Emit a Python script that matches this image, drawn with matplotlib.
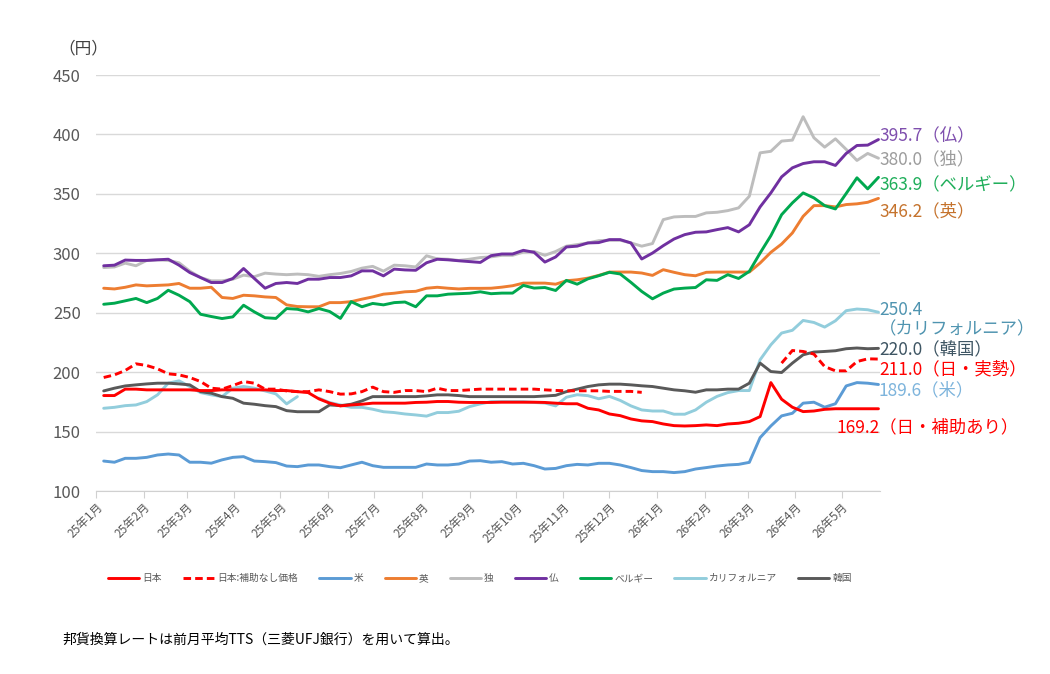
import numpy as np
import pandas as pd
import matplotlib
matplotlib.use('Agg')
import matplotlib.pyplot as plt
import matplotlib.dates as mdates

plt.rcParams['font.family'] = ['Noto Sans CJK JP', 'DejaVu Sans']

nan = np.nan

#################### Data ####################
dates = pd.date_range('2025-01-06', periods=73, freq='7D')

japan = [180.3, 180.3, 185.7, 185.7, 185.1, 185.1, 185.1, 185.1, 185.1, 184.5,
         184.5, 185.1, 185.1, 185.1, 185.1, 185.1, 184.5, 184.5, 183.6, 182.8,
         177.5, 173.9, 171.6, 172.4, 173.0, 173.9, 173.9, 173.9, 173.9, 174.5,
         174.7, 175.3, 175.3, 174.7, 174.5, 174.5, 174.5, 174.7, 174.7, 174.7,
         174.7, 174.5, 173.9, 173.4, 173.4, 169.6, 168.2, 164.8, 163.4, 160.6,
         159.0, 158.4, 156.4, 155.0, 154.7, 155.0, 155.6, 155.0, 156.4, 157.0,
         158.4, 162.6, 191.2, 177.2, 170.5, 166.8, 167.3, 168.7, 169.2, 169.2,
         169.2, 169.2, 169.2]

japan_nosub = [195.5, 197.7, 201.4, 207.0, 205.6, 202.8, 198.6, 197.7, 195.5, 192.1,
               186.5, 185.7, 188.7, 192.1, 190.7, 185.7, 185.7, 184.2, 183.6, 183.6,
               185.1, 183.6, 181.5, 181.7, 183.6, 187.4, 183.6, 183.0, 184.5, 184.5,
               183.6, 186.5, 184.5, 184.5, 185.1, 185.7, 185.7, 185.7, 185.7, 185.7,
               185.7, 185.1, 184.6, 184.3, 184.3, 184.3, 184.3, 183.8, 183.8, 183.8,
               183.0, nan, nan, nan, nan, nan, nan, nan, nan, nan,
               nan, nan, nan, 207.6, 218.2, 217.4, 215.2, 204.7, 201.1, 201.1,
               208.9, 211.2, 211.0]

usa = [125.2, 124.2, 127.5, 127.5, 128.3, 130.3, 131.1, 130.3, 124.2, 124.2,
       123.4, 126.2, 128.3, 128.9, 125.2, 124.7, 123.9, 121.0, 120.5, 121.9,
       121.9, 120.5, 119.6, 121.9, 124.2, 121.3, 119.9, 119.9, 119.9, 119.9,
       122.7, 121.9, 121.9, 122.7, 125.2, 125.5, 124.2, 124.7, 122.7, 123.3,
       121.3, 118.5, 119.0, 121.3, 122.4, 121.9, 123.3, 123.3, 121.9, 119.7,
       117.2, 116.3, 116.3, 115.5, 116.3, 118.5, 119.7, 121.0, 121.9, 122.4,
       124.1, 144.9, 154.7, 163.2, 165.4, 173.9, 174.7, 170.5, 173.4, 188.4,
       191.2, 190.7, 189.6]

uk = [270.6, 270.0, 271.4, 273.4, 272.6, 273.0, 273.4, 274.6, 270.6, 270.6,
      271.4, 262.8, 262.0, 264.7, 264.2, 263.3, 262.8, 256.6, 255.2, 255.0,
      255.0, 258.5, 258.5, 259.3, 261.4, 263.3, 265.6, 266.4, 267.6, 268.0,
      270.6, 271.4, 270.6, 270.0, 270.5, 270.5, 270.6, 271.5, 272.7, 274.9,
      274.9, 274.9, 274.0, 276.9, 277.7, 279.1, 281.4, 284.2, 284.2, 284.2,
      283.4, 281.4, 286.2, 284.0, 282.0, 281.1, 284.0, 284.2, 284.2, 284.2,
      284.2, 291.8, 300.8, 307.8, 317.1, 331.1, 340.1, 340.1, 339.0, 341.0,
      341.6, 342.9, 346.2]

germany = [288.0, 288.5, 291.7, 289.5, 294.0, 294.5, 294.0, 292.0, 285.0, 279.6,
           276.8, 276.8, 278.2, 281.6, 280.3, 283.3, 282.5, 282.0, 282.5, 282.0,
           280.6, 282.0, 283.0, 284.7, 287.5, 289.0, 285.0, 290.0, 289.5, 288.5,
           297.9, 295.3, 295.0, 294.0, 295.0, 296.4, 297.0, 298.3, 298.3, 301.0,
           301.5, 298.3, 301.5, 306.0, 307.3, 308.7, 310.6, 311.0, 311.0, 308.7,
           306.0, 308.2, 328.3, 330.6, 331.0, 331.0, 334.0, 334.5, 335.9, 338.2,
           348.0, 384.5, 385.8, 394.4, 395.2, 414.9, 397.2, 389.3, 396.3, 387.4,
           378.1, 384.0, 380.0]

france = [289.5, 290.0, 294.3, 294.0, 294.0, 294.5, 295.0, 290.0, 283.8, 279.6,
          275.4, 275.4, 278.8, 287.2, 278.8, 270.6, 274.6, 275.4, 274.6, 278.2,
          278.2, 279.6, 279.6, 281.0, 285.2, 285.2, 281.0, 286.7, 286.0, 285.7,
          292.0, 295.0, 294.5, 293.7, 293.0, 292.3, 298.0, 299.4, 299.4, 302.5,
          300.8, 292.6, 296.9, 305.3, 306.0, 308.7, 309.0, 311.5, 311.5, 308.7,
          295.2, 300.2, 306.4, 312.0, 315.7, 317.7, 318.0, 319.9, 321.6, 318.0,
          324.0, 339.0, 350.8, 364.3, 371.9, 375.5, 377.0, 377.0, 373.9, 384.0,
          390.7, 391.0, 395.7]

belgium = [257.1, 258.0, 260.0, 262.0, 258.5, 262.0, 268.9, 264.7, 259.3, 248.7,
           246.8, 245.1, 246.5, 256.3, 250.7, 245.8, 245.2, 253.5, 252.9, 250.7,
           253.5, 251.0, 245.2, 259.3, 255.0, 257.8, 256.6, 258.5, 259.0, 255.0,
           264.2, 264.2, 265.6, 266.0, 266.4, 267.6, 266.0, 266.5, 266.5, 273.0,
           270.7, 271.2, 268.7, 277.2, 274.0, 278.5, 281.1, 284.0, 282.6, 275.5,
           267.9, 261.7, 266.5, 269.9, 270.7, 271.2, 277.7, 277.2, 282.0, 278.8,
           284.8, 300.2, 314.8, 332.5, 342.4, 350.8, 346.6, 340.1, 337.3, 350.3,
           363.5, 354.2, 363.9]

california = [169.6, 170.4, 171.8, 172.4, 175.2, 180.9, 190.7, 192.7, 187.9, 182.8,
              180.9, 179.4, 186.5, 187.9, 186.5, 184.2, 181.7, 173.3, 179.4, nan,
              178.1, 174.4, 172.4, 170.4, 170.4, 168.8, 166.7, 166.0, 164.8, 164.0,
              163.0, 166.0, 166.0, 167.1, 171.0, 173.3, 175.2, 175.2, 175.2, 175.2,
              174.5, 174.0, 171.6, 178.9, 181.0, 180.2, 177.6, 179.6, 176.2, 171.6,
              168.2, 167.3, 167.3, 164.6, 164.6, 168.2, 174.7, 179.6, 182.8, 184.5,
              184.5, 210.4, 223.0, 232.9, 235.2, 243.5, 241.8, 237.9, 243.2, 251.7,
              253.1, 252.5, 250.4]

korea = [184.2, 186.5, 188.4, 189.3, 190.1, 190.7, 190.7, 190.1, 189.3, 183.6,
         182.3, 179.4, 178.0, 173.9, 173.0, 171.8, 171.0, 167.6, 166.7, 166.7,
         166.7, 172.4, 171.8, 173.0, 175.8, 179.4, 179.4, 179.4, 179.4, 179.4,
         180.0, 180.9, 180.9, 180.3, 179.4, 179.4, 179.4, 179.4, 179.4, 179.4,
         179.4, 179.9, 180.5, 183.6, 185.7, 187.9, 189.3, 189.9, 189.9, 189.3,
         188.5, 187.9, 186.5, 185.1, 184.3, 183.1, 185.1, 185.1, 185.7, 185.7,
         190.7, 207.6, 200.5, 199.7, 207.6, 214.6, 216.9, 217.4, 218.0, 219.7,
         220.3, 219.7, 220.0]

names = ['日本', '日本:補助なし価格', '米', '英', '独', '仏', 'ベルギー', 'カリフォルニア', '韓国']
colors = ['#ff0000', '#ff0000', '#5b9bd5', '#ed7d31', '#bdbdbd', '#7030a0',
          '#00a84f', '#92cddc', '#595959']
series = [japan, japan_nosub, usa, uk, germany, france, belgium, california, korea]
styles = ['-', '--', '-', '-', '-', '-', '-', '-', '-']

# right-side end labels: (text, colour, x px, y px)
end_labels = [
    ('395.7（仏）', '#7f4fae', 879, 136),
    ('380.0（独）', '#9c9c9c', 879, 159),
    ('363.9（ベルギー）', '#1fae5a', 879, 185),
    ('346.2（英）', '#c5732d', 879, 211),
    ('250.4', '#4f94b0', 879, 310),
    ('（カリフォルニア）', '#4f94b0', 879, 329),
    ('220.0（韓国）', '#3e5563', 879, 349),
    ('211.0（日・実勢）', '#ff0000', 879, 369),
    ('189.6（米）', '#7db4dc', 879, 390),
    ('169.2（日・補助あり）', '#ff0000', 836, 427),
]

################### Render ###################
W, H = 1050, 674
fig = plt.figure(figsize=(W / 100, H / 100), dpi=100)
ax = fig.add_axes([96 / W, 1 - 491 / H, (880 - 96) / W, (491 - 75) / H])

# draw order: back to front
order = [4, 3, 6, 5, 7, 2, 8, 1, 0]
lines = {}
for k in order:
    ln, = ax.plot(dates, series[k], color=colors[k], lw=2.1, ls=styles[k],
                  label=names[k], solid_capstyle='round',
                  dashes=(2.6, 1.4) if styles[k] == '--' else (None, None))
    lines[k] = ln

ax.set_ylim(100, 450)
ax.set_yticks(np.arange(100, 451, 50))
ax.set_xlim(pd.Timestamp('2025-01-01'), pd.Timestamp('2026-05-26'))
ax.grid(axis='y', color='#d9d9d9', lw=1)
ax.set_axisbelow(True)
for s in ['top', 'right', 'left']:
    ax.spines[s].set_visible(False)
ax.spines['bottom'].set_color('#d0d0d0')
ax.tick_params(axis='y', length=0, labelsize=12, labelcolor='#595959', pad=11)

ax.xaxis.set_major_locator(mdates.MonthLocator())
ax.xaxis.set_major_formatter(plt.FuncFormatter(
    lambda v, p: mdates.num2date(v).strftime('%y年') + f'{mdates.num2date(v).month}月'))
ax.tick_params(axis='x', length=5, color='#d0d0d0', labelsize=8.5,
               labelcolor='#595959', pad=2)
for lab in ax.get_xticklabels():
    lab.set_rotation(45)
    lab.set_ha('right')
    lab.set_rotation_mode('anchor')

fig.text(58 / W, 1 - 49 / H, '（円）', fontsize=12, color='#404040', va='center')

for txt, c, px, py in end_labels:
    fig.text(px / W, 1 - py / H, txt, color=c, fontsize=12.5, va='center')

handles = [lines[k] for k in range(9)]
fig.legend(handles, names, loc='center', bbox_to_anchor=(480 / W, 1 - 578 / H),
           ncol=9, frameon=False, fontsize=7, labelcolor='#595959',
           handlelength=3.2, handletextpad=0.3, columnspacing=2.2)

fig.text(62 / W, 1 - 640 / H, '邦貨換算レートは前月平均TTS（三菱UFJ銀行）を用いて算出。',
         fontsize=10, color='#000000', va='center')

plt.savefig('out.png', dpi=100)
